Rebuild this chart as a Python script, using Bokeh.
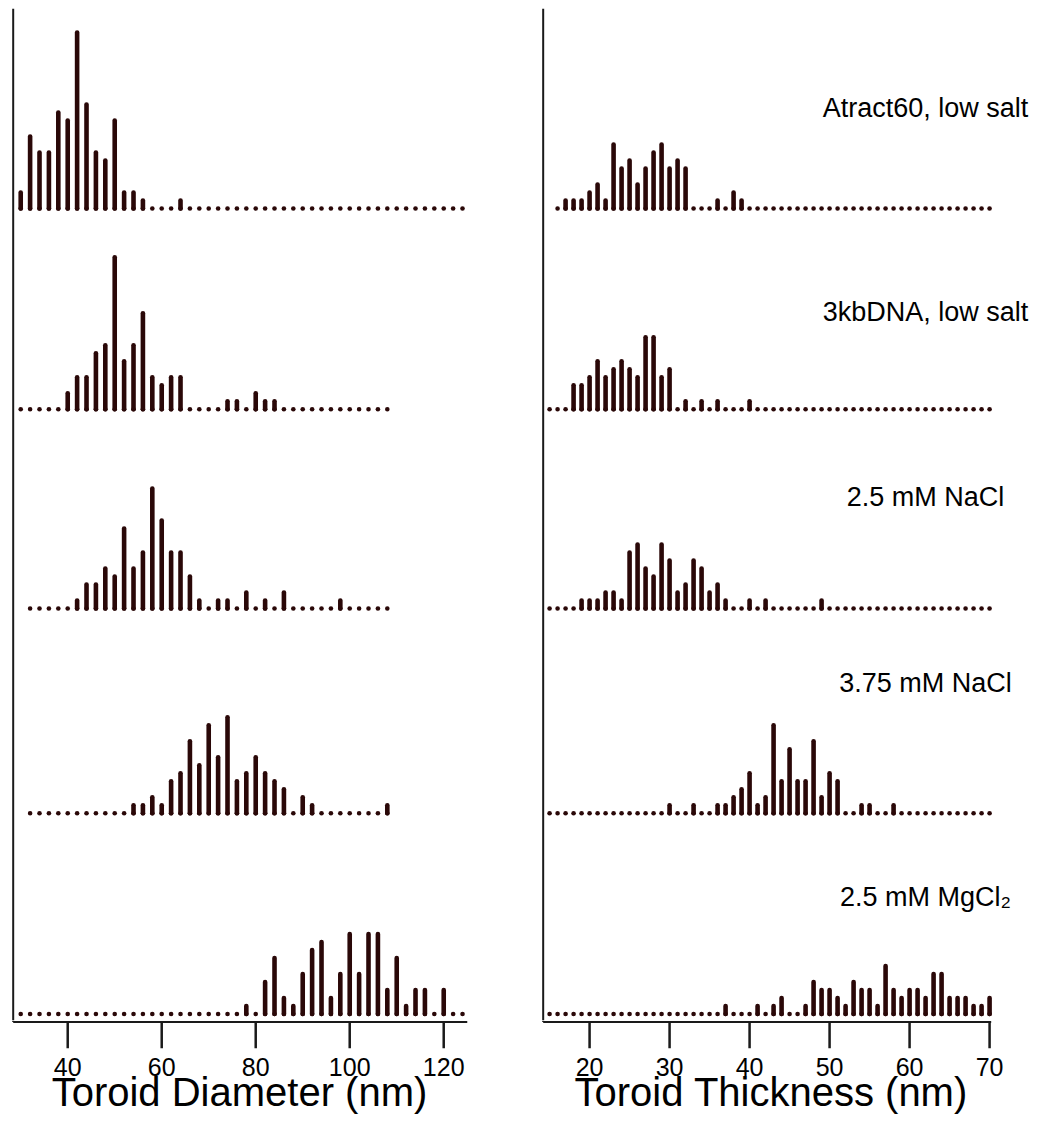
from bokeh.plotting import figure
from bokeh.layouts import row, column
from bokeh.models import Label, FixedTicker
from bokeh.embed import file_html
from bokeh.resources import INLINE

# ---------------- data ----------------
ROW_NAMES = ["Atract60, low salt", "3kbDNA, low salt", "2.5 mM NaCl",
             "3.75 mM NaCl", "2.5 mM MgCl\u2082"]

# Toroid diameter histograms (bin width 2 nm), counts per bin
DIAM_STEP = 2
DIAM_START = [30, 30, 32, 32, 30]
diam_atract60 = [2, 9, 7, 7, 12, 11, 22, 13, 7, 6, 11, 2, 2, 1, 0, 0, 0, 1,
                 0, 0, 0, 0, 0, 0, 0, 0, 0, 0, 0, 0, 0, 0, 0, 0, 0, 0, 0, 0,
                 0, 0, 0, 0, 0, 0, 0, 0, 0, 0]
diam_3kb = [0, 0, 0, 0, 0, 2, 4, 4, 7, 8, 19, 6, 8, 12, 4, 3, 4, 4,
            0, 0, 0, 0, 1, 1, 0, 2, 1, 1,
            0, 0, 0, 0, 0, 0, 0, 0, 0, 0, 0, 0]
diam_nacl25 = [0, 0, 0, 0, 0, 1, 3, 3, 5, 4, 10, 5, 7, 15, 11, 7, 7, 4, 1,
               0, 1, 1, 0, 2, 0, 1, 0, 2, 0, 0, 0, 0, 0, 1, 0, 0, 0, 0, 0]
diam_nacl375 = [0, 0, 0, 0, 0, 0, 0, 0, 0, 0, 0, 1, 1, 2, 1, 4, 5, 9, 6, 11,
                7, 12, 4, 5, 7, 5, 4, 3, 0, 2, 1, 0, 0, 0, 0, 0, 0, 0, 1]
diam_mgcl2 = [0, 0, 0, 0, 0, 0, 0, 0, 0, 0, 0, 0, 0, 0, 0, 0, 0, 0, 0, 0,
              0, 0, 0, 0, 1, 0, 4, 7, 2, 1, 5, 8, 9, 2, 5, 10, 5, 10, 10, 3,
              7, 1, 3, 3, 0, 3, 0, 0]
DIAM_SERIES = [diam_atract60, diam_3kb, diam_nacl25, diam_nacl375, diam_mgcl2]

# Toroid thickness histograms (bin width 1 nm), counts per bin
THICK_STEP = 1
THICK_START = [16, 15, 15, 15, 15]
thick_atract60 = [0, 1, 1, 1, 2, 3, 1, 8, 5, 6, 3, 5, 7, 8, 5, 6, 5, 0, 0, 0,
                  1, 0, 2, 1, 0, 0, 0, 0, 0, 0, 0, 0, 0, 0, 0, 0, 0, 0, 0, 0,
                  0, 0, 0, 0, 0, 0, 0, 0, 0, 0, 0, 0, 0, 0, 0]
thick_3kb = [0, 0, 0, 3, 3, 4, 6, 4, 5, 6, 5, 4, 9, 9, 4, 5, 0, 1, 0, 1,
             0, 1, 0, 0, 0, 1, 0, 0, 0, 0, 0, 0, 0, 0, 0, 0, 0, 0, 0, 0,
             0, 0, 0, 0, 0, 0, 0, 0, 0, 0, 0, 0, 0, 0, 0, 0]
thick_nacl25 = [0, 0, 0, 0, 1, 1, 1, 2, 2, 1, 7, 8, 5, 4, 8, 6, 2, 3, 6, 5,
                2, 3, 1, 0, 0, 1, 0, 1, 0, 0, 0, 0, 0, 0, 1, 0, 0, 0, 0, 0,
                0, 0, 0, 0, 0, 0, 0, 0, 0, 0, 0, 0, 0, 0, 0, 0]
thick_nacl375 = [0, 0, 0, 0, 0, 0, 0, 0, 0, 0, 0, 0, 0, 0, 0, 1, 0, 0, 1, 0,
                 0, 1, 1, 2, 3, 5, 1, 2, 11, 4, 8, 4, 4, 9, 2, 5, 4, 0, 0, 1,
                 1, 0, 0, 1, 0, 0, 0, 0, 0, 0, 0, 0, 0, 0, 0, 0]
thick_mgcl2 = [0, 0, 0, 0, 0, 0, 0, 0, 0, 0, 0, 0, 0, 0, 0, 0, 0, 0, 0, 0,
               0, 0, 1, 0, 0, 0, 1, 0, 1, 2, 0, 0, 1, 4, 3, 3, 2, 1, 4, 3,
               3, 1, 6, 3, 2, 3, 3, 2, 5, 5, 2, 2, 2, 1, 1, 2]
THICK_SERIES = [thick_atract60, thick_3kb, thick_nacl25, thick_nacl375, thick_mgcl2]

DIAM_TICKS = [40, 60, 80, 100, 120]
THICK_TICKS = [20, 30, 40, 50, 60, 70]

# ---------------- layout / style ----------------
ROW_BASE = [100.7, 75.6, 50.7, 25.1, 0.0]      # baseline of each stacked row (count units)
LABEL_DY = [12.5, 12.1, 13.9, 16.3, 14.6]      # label height above its row baseline
LABEL_X = 62.0
BAR_COLOR = "#2a0808"
AXIS_COLOR = "#1a1a1a"
FONT = "Liberation Sans"
MAIN_Y_RANGE = (-0.8125, 125.7)
MAIN_FRAME_H = 1012
TICK_FRAME_H = 28      # strip holding the x-axis line and its outward ticks (px units)
AXIS_LINE_Y = 26.4     # px from the strip bottom
NBSP = "\u00a0"


def base_fig(frame_w, frame_h, x_range, y_range, border_left, border_right, top):
    p = figure(frame_width=frame_w, frame_height=frame_h, x_range=x_range,
               y_range=y_range, output_backend="svg", toolbar_location=None,
               min_border_top=top, min_border_bottom=0,
               min_border_left=border_left, min_border_right=border_right)
    p.grid.visible = False
    p.outline_line_color = None
    p.background_fill_color = "white"
    p.border_fill_color = "white"
    p.yaxis.visible = False
    return p


def make_main(series, starts, step, x_range, x_lo, frame_w, border_left,
              border_right, labels):
    p = base_fig(frame_w, MAIN_FRAME_H, x_range, MAIN_Y_RANGE, border_left,
                 border_right, 8)
    p.xaxis.visible = False
    # left axis line
    p.segment(x0=[x_lo], y0=[MAIN_Y_RANGE[0]], x1=[x_lo], y1=[MAIN_Y_RANGE[1]],
              line_width=2, line_color=AXIS_COLOR)

    xs, ys, x0, y0, y1 = [], [], [], [], []
    for counts, start, base in zip(series, starts, ROW_BASE):
        for i, c in enumerate(counts):
            x = start + i * step
            xs.append(x)
            ys.append(base)
            if c > 0:
                x0.append(x)
                y0.append(base)
                y1.append(base + c)
    p.scatter(x=xs, y=ys, size=4.6, color=BAR_COLOR, line_width=0)
    p.segment(x0=x0, y0=y0, x1=x0, y1=y1, line_width=4.6,
              line_color=BAR_COLOR, line_cap="round")

    if labels:
        for name, base, dy in zip(ROW_NAMES, ROW_BASE, LABEL_DY):
            p.add_layout(Label(x=LABEL_X, y=base + dy, text=name,
                               text_align="center", text_baseline="middle",
                               text_font=FONT, text_font_size="27px",
                               text_color="black"))
    return p


def make_axis(x_range, x_lo, x_hi, ticks, title, frame_w, border_left,
              border_right, title_pad):
    p = base_fig(frame_w, TICK_FRAME_H, x_range, (0, TICK_FRAME_H), border_left,
                 border_right, 0)
    # continuation of the left axis line, the x-axis line and outward ticks
    p.segment(x0=[x_lo, x_lo], y0=[AXIS_LINE_Y, AXIS_LINE_Y],
              x1=[x_hi, x_lo], y1=[AXIS_LINE_Y, TICK_FRAME_H],
              line_width=2, line_color=AXIS_COLOR)
    p.segment(x0=ticks, y0=[AXIS_LINE_Y] * len(ticks), x1=ticks,
              y1=[0] * len(ticks), line_width=2.5, line_color=AXIS_COLOR)

    xa = p.xaxis[0]
    xa.ticker = FixedTicker(ticks=ticks, minor_ticks=[])
    xa.major_tick_out = 0
    xa.major_tick_in = 0
    xa.major_tick_line_color = None
    xa.minor_tick_line_color = None
    xa.axis_line_color = None
    xa.major_label_text_font = FONT
    xa.major_label_text_font_size = "25px"
    xa.major_label_text_color = "black"
    xa.major_label_standoff = 9
    xa.axis_label = title + NBSP * title_pad
    xa.axis_label_text_font = FONT
    xa.axis_label_text_font_size = "40px"
    xa.axis_label_text_font_style = "normal"
    xa.axis_label_text_color = "black"
    xa.axis_label_standoff = -9
    return p


L_RANGE, L_LO, L_HI, L_W = (28.04, 125.06), 28.4, 125.06, 456
R_RANGE, R_LO, R_HI, R_W = (13.99, 76.99), 14.2, 70.2, 504

left = make_main(DIAM_SERIES, DIAM_START, DIAM_STEP, L_RANGE, L_LO, L_W, 11, 30, False)
right = make_main(THICK_SERIES, THICK_START, THICK_STEP, R_RANGE, R_LO, R_W, 44, 0, True)
left_ax = make_axis(L_RANGE, L_LO, L_HI, DIAM_TICKS, "Toroid Diameter (nm)",
                    L_W, 11, 30, 0)
right_ax = make_axis(R_RANGE, R_LO, R_HI, THICK_TICKS, "Toroid Thickness (nm)",
                     R_W, 44, 0, 4)

layout = column(row(left, right), row(left_ax, right_ax))
open("out.html", "w").write(file_html(layout, INLINE))
